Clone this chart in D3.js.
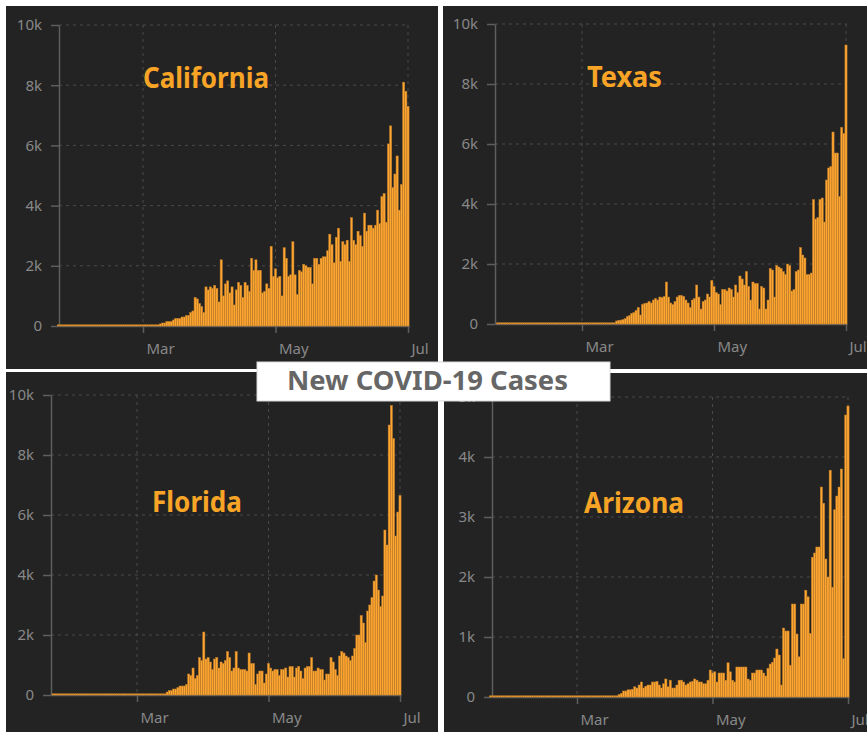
<!DOCTYPE html>
<html>
<head>
<meta charset="utf-8">
<script src="https://cdn.jsdelivr.net/npm/d3@7"></script>
<style>
  html, body { margin: 0; padding: 0; background: #fff; }
  svg { display: block; font-family: "Noto Sans", sans-serif; }
</style>
</head>
<body>
<svg id="chart" width="867" height="732"></svg>
<script>
(function () {
  'use strict';

  // ---- data: new cases per day, Jan 22 .. Jul 1 2020 ----
  var firstDay = "2020-01-22";

  var california = [
    0, 0, 0, 0, 0, 0, 0, 0, 0, 0,            // Jan 22-31
    0, 0, 0, 0, 0, 0, 0, 0, 0, 0,            // Feb 1-10
    0, 0, 0, 0, 0, 0, 0, 0, 0, 0,            // Feb 11-20
    0, 0, 0, 0, 0, 0, 0, 0, 0,               // Feb 21-29
    0, 3, 10, 10, 20, 20, 30, 40, 70, 100,   // Mar 1-10
    100, 150, 150, 150, 200, 250, 250, 250, 300, 300,
    350, 350, 450, 500, 950, 900, 750, 650, 450, 1300,
    1200, 1300, 1250, 1350, 1250, 800, 2200, 1000, 1400, 1500,
    1100, 1300, 700, 1200, 1450, 1350, 950, 1450, 1350, 1150,
    2250, 1850, 2200, 1850, 1850, 1100, 1150, 1400, 1250, 2650,
    1650, 1900, 1600, 1650, 1000, 2600, 2250, 1650, 1700, 2800,
    1700, 1050, 1850, 1800, 2050, 2000, 1950, 1950, 1400, 2250,
    2250, 2050, 2250, 2300, 2300, 2500, 3050, 2700, 2100, 2950,
    3250, 2150, 2800, 2700, 2850, 2150, 3600, 2850, 2700, 3150,
    3000, 2650, 3750, 3150, 3350, 3350, 3250, 3350, 3850, 3400,
    4300, 4400, 3450, 6050, 6650, 4600, 5050, 5650, 3850, 4700,
    8100, 7800, 7300
  ];

  var texas = [
    0, 0, 0, 0, 0, 0, 0, 0, 0, 0,
    0, 0, 0, 0, 0, 0, 0, 0, 0, 0,
    0, 0, 0, 0, 0, 0, 0, 0, 0, 0,
    0, 0, 0, 0, 0, 0, 0, 0, 0,
    0, 0, 0, 0, 0, 5, 5, 10, 10, 10,
    15, 20, 25, 30, 30, 40, 100, 120, 130, 150,
    180, 250, 280, 350, 380, 450, 550, 300, 650, 680,
    700, 750, 700, 800, 850, 800, 900, 880, 920, 1400,
    900, 700, 650, 750, 900, 950, 950, 920, 800, 700,
    550, 800, 850, 1300, 900, 500, 750, 800, 1000, 900,
    1450, 1250, 1050, 1000, 650, 1150, 1150, 1100, 1200, 1150,
    900, 1300, 1050, 1600, 1500, 1300, 1750, 1250, 800, 1400,
    1350, 1350, 500, 1250, 1200, 500, 800, 1850, 1800, 900,
    1950, 1900, 1850, 1750, 1650, 2000, 1950, 1100, 1150, 1750,
    1800, 2550, 2300, 2200, 1650, 1650, 1700, 4150, 3500, 3550,
    4150, 4200, 3400, 4800, 5200, 5250, 6400, 5700, 5700, 4250,
    6550, 6350, 9300
  ];

  var florida = [
    0, 0, 0, 0, 0, 0, 0, 0, 0, 0,
    0, 0, 0, 0, 0, 0, 0, 0, 0, 0,
    0, 0, 0, 0, 0, 0, 0, 0, 0, 0,
    0, 0, 0, 0, 0, 0, 0, 0, 0,
    0, 0, 2, 2, 0, 4, 5, 5, 10, 10,
    15, 20, 30, 30, 100, 150, 150, 200, 200, 250,
    300, 300, 300, 350, 700, 650, 900, 550, 650, 1250,
    1150, 2100, 1200, 1250, 1100, 850, 1200, 1250, 900, 1100,
    1050, 1150, 1450, 1250, 800, 900, 1450, 900, 850, 850,
    850, 800, 1400, 1050, 1050, 350, 700, 800, 800, 400,
    700, 1050, 900, 800, 850, 850, 650, 850, 850, 900,
    600, 950, 950, 600, 900, 950, 800, 550, 900, 950,
    950, 1250, 800, 800, 900, 850, 850, 500, 700, 700,
    1250, 1100, 850, 650, 1300, 1450, 1400, 1300, 1250, 1150,
    1300, 1550, 2000, 2000, 2650, 2400, 1750, 2800, 3000, 3250,
    3800, 4000, 3500, 2950, 3300, 5500, 5000, 9000, 9650, 8550,
    5300, 6100, 6650
  ];

  var arizona = [
    0, 0, 0, 0, 0, 0, 0, 0, 0, 0,
    0, 0, 0, 0, 0, 0, 0, 0, 0, 0,
    0, 0, 0, 0, 0, 0, 0, 0, 0, 0,
    0, 0, 0, 0, 0, 0, 0, 0, 0,
    0, 0, 0, 0, 0, 0, 1, 0, 1, 2,
    3, 3, 5, 5, 10, 5, 10, 15, 20, 40,
    60, 100, 100, 120, 120, 130, 170, 150, 200, 250,
    150, 180, 200, 200, 250, 250, 260, 200, 150, 220,
    300, 170, 280, 150, 150, 200, 280, 280, 250, 200,
    220, 250, 260, 300, 280, 250, 250, 220, 220, 280,
    450, 400, 420, 250, 400, 400, 400, 280, 570, 420,
    280, 250, 500, 500, 500, 500, 500, 300, 280, 400,
    400, 450, 450, 450, 400, 350, 480, 550, 580, 650,
    800, 700, 200, 1150, 1100, 1100, 530, 1550, 1550, 1050,
    670, 1550, 1550, 1780, 1670, 1060, 2330, 2400, 2500, 2500,
    3500, 3230, 2300, 2000, 3780, 1830, 3120, 3350, 3500, 3800,
    640, 4700, 4850
  ];

  var stateNames = ["California", "Texas", "Florida", "Arizona"];
  var monthTicks = ["2020-03-01", "2020-05-01", "2020-07-01"];
  var monthLabels = ["Mar", "May", "Jul"];
  var caseTicks = [0, 2000, 4000, 6000, 8000, 10000];
  var azTicks = [0, 1000, 2000, 3000, 4000, 5000];
  var chartTitle = "New COVID-19 Cases";

  // ---- layout ----
  var panels = [
    { name: stateNames[0], values: california, ticks: caseTicks,
      box: [6, 6, 432, 363], axisX: 59, xMar: 143, xJul: 408, y0: 326, yTop: 25,
      title: [143, 88, 126] },
    { name: stateNames[1], values: texas, ticks: caseTicks,
      box: [443, 6, 424, 363], axisX: 495, xMar: 582, xJul: 846, y0: 324, yTop: 24,
      title: [587, 87, 75] },
    { name: stateNames[2], values: florida, ticks: caseTicks,
      box: [6, 372, 432, 360], axisX: 51, xMar: 137, xJul: 400, y0: 695, yTop: 395,
      title: [152, 512, 90] },
    { name: stateNames[3], values: arizona, ticks: azTicks,
      box: [444, 373, 423, 359], axisX: 492, xMar: 577, xJul: 848, y0: 697, yTop: 397,
      title: [584, 513, 100] }
  ];

  var ORANGE = "#ffa631";
  var parse = d3.timeParse("%Y-%m-%d");
  var start = parse(firstDay);
  var tickDates = monthTicks.map(parse);

  var svg = d3.select("#chart");
  var defs = svg.append("defs");

  panels.forEach(function (p, i) {
    var b = p.box;
    defs.append("clipPath").attr("id", "clip" + i)
      .append("rect").attr("x", b[0]).attr("y", b[1]).attr("width", b[2]).attr("height", b[3]);

    var g = svg.append("g").attr("clip-path", "url(#clip" + i + ")");
    g.append("rect")
      .attr("x", b[0]).attr("y", b[1]).attr("width", b[2]).attr("height", b[3])
      .attr("fill", "#232323");

    // x scale pinned on the Mar / Jul ticks, then stretched to the y axis
    var x = d3.scaleTime().domain([tickDates[0], tickDates[2]]).range([p.xMar, p.xJul]);
    var dayW = x(d3.timeDay.offset(tickDates[0], 1)) - x(tickDates[0]);
    var lastDay = d3.timeDay.offset(start, p.values.length - 1);
    var rightEdge = x(lastDay) + dayW / 2;
    x.domain([x.invert(p.axisX), x.invert(rightEdge)]).range([p.axisX, rightEdge]);

    var yMax = p.ticks[p.ticks.length - 1];
    var y = d3.scaleLinear().domain([0, yMax]).range([p.y0, p.yTop]);

    // grid
    g.append("g").selectAll("line").data(p.ticks.slice(1)).join("line")
      .attr("x1", p.axisX).attr("x2", rightEdge)
      .attr("y1", d => y(d)).attr("y2", d => y(d))
      .attr("stroke", "#4a4a4a").attr("stroke-dasharray", "3,4");
    g.append("g").selectAll("line").data(tickDates).join("line")
      .attr("x1", d => x(d)).attr("x2", d => x(d))
      .attr("y1", p.yTop).attr("y2", p.y0)
      .attr("stroke", "#4a4a4a").attr("stroke-dasharray", "3,4");

    // axes
    var yAxis = g.append("g").attr("transform", "translate(" + p.axisX + ",0)")
      .call(d3.axisLeft(y).tickValues(p.ticks).tickFormat(d3.format("~s"))
        .tickSize(8).tickSizeOuter(0).tickPadding(9));
    var xAxis = g.append("g").attr("transform", "translate(0," + p.y0 + ")")
      .call(d3.axisBottom(x).tickValues(tickDates)
        .tickFormat((d, k) => monthLabels[k])
        .tickSize(7).tickSizeOuter(0).tickPadding(10));
    xAxis.selectAll("text").attr("text-anchor", "start").attr("x", 3);

    [yAxis, xAxis].forEach(function (a) {
      a.select(".domain").attr("stroke", "#5e5e5e").attr("stroke-width", 1.5);
      a.selectAll(".tick line").attr("stroke", "#5e5e5e").attr("stroke-width", 1.5);
      a.selectAll("text").attr("fill", "#888").attr("font-size", 15)
        .attr("font-family", "'Noto Sans', sans-serif");
    });

    // bars (drawn over the axis line; zero days stay visible as a thin dotted base)
    var data = p.values.map(function (v, k) {
      return { date: d3.timeDay.offset(start, k), value: v };
    });
    g.append("g").selectAll("rect").data(data).join("rect")
      .attr("x", d => x(d.date) - dayW / 2)
      .attr("width", dayW)
      .attr("y", d => Math.min(y(d.value), p.y0 - 1.2))
      .attr("height", d => Math.max(y(0) - y(d.value), 1.2))
      .attr("fill", ORANGE)
      .attr("stroke", "#b97a2a")
      .attr("stroke-width", 0.5);

    // state name
    g.append("text")
      .attr("x", p.title[0]).attr("y", p.title[1])
      .attr("textLength", p.title[2]).attr("lengthAdjust", "spacingAndGlyphs")
      .attr("font-size", 28).attr("font-weight", "bold")
      .attr("fill", "#f8a527")
      .text(p.name);
  });

  // centre title box
  svg.append("rect")
    .attr("x", 257).attr("y", 362).attr("width", 353).attr("height", 39)
    .attr("fill", "#fff").attr("stroke", "#d8d8d8");
  svg.append("text")
    .attr("x", 287).attr("y", 390)
    .attr("textLength", 281).attr("lengthAdjust", "spacingAndGlyphs")
    .attr("font-size", 27).attr("font-weight", "bold").attr("fill", "#666")
    .text(chartTitle);
})();
</script>
</body>
</html>
